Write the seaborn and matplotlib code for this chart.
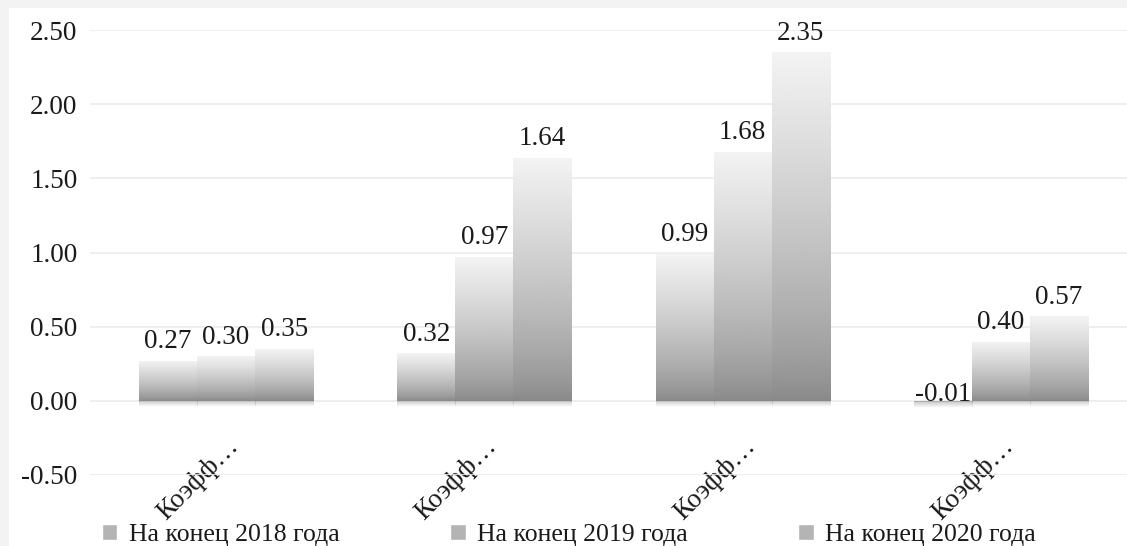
import numpy as np
import pandas as pd
import seaborn as sns
import matplotlib.pyplot as plt
from matplotlib.patches import Rectangle
from matplotlib.transforms import ScaledTranslation

# Данные
groups = ["k1", "k2", "k3", "k4"]
group_labels = ["Коэфф…", "Коэфф…", "Коэфф…", "Коэфф…"]
series = ["На конец 2018 года", "На конец 2019 года", "На конец 2020 года"]
vals_2018 = [0.27, 0.32, 0.99, -0.01]
vals_2019 = [0.30, 0.97, 1.68, 0.40]
vals_2020 = [0.35, 1.64, 2.35, 0.57]

df = pd.DataFrame({
    "group": groups * 3,
    "year": [series[0]] * 4 + [series[1]] * 4 + [series[2]] * 4,
    "value": vals_2018 + vals_2019 + vals_2020,
})

sns.set_style("white")
plt.rcParams["font.family"] = ["Liberation Serif", "DejaVu Serif"]
plt.rcParams["axes.unicode_minus"] = False
txt_color = "#1a1a1a"
fs = 19.5

fig = plt.figure(figsize=(11.27, 5.46), dpi=100, facecolor="#f3f3f3")
fig.patches.append(Rectangle((9 / 1127, 0), 1, 1 - 8 / 546, transform=fig.transFigure,
                             facecolor="white", edgecolor="none", zorder=-5))
ax = fig.add_axes([90 / 1127, 1 - 475 / 546, 1 - 90 / 1127, 445 / 546])
ax.set_facecolor("none")

sns.barplot(data=df, x="group", y="value", hue="year", order=groups, hue_order=series,
            palette=["#b4b4b4"] * 3, saturation=1, width=0.675, ax=ax, legend=True)

handles, labels = ax.get_legend_handles_labels()
ax.get_legend().remove()

# градиентная заливка столбцов
t = np.linspace(0, 1, 256) ** 0.75
dark, light = 0x88 / 255, 0xf3 / 255
grad = (dark + (light - dark) * t).reshape(-1, 1)

# тень под столбцами
shadow = np.zeros((16, 1, 4))
shadow[..., :3] = 0.45
shadow[:, 0, 3] = np.linspace(0.0, 0.35, 16)

all_vals = [vals_2018, vals_2019, vals_2020]
for container, vals in zip(ax.containers, all_vals):
    for bar, v in zip(container, vals):
        x, y = bar.get_x(), bar.get_y()
        w, h = bar.get_width(), bar.get_height()
        bar.set_facecolor("none")
        bar.set_edgecolor("none")
        y0, y1 = min(y, y + h), max(y, y + h)
        im = ax.imshow(grad, cmap="gray", vmin=0, vmax=1, origin="lower", aspect="auto",
                       extent=[x, x + w, y0, y1], zorder=2)
        im.set_clip_path(bar)
        ax.imshow(shadow, origin="lower", aspect="auto",
                  extent=[x, x + w, y0 - 0.04, y0], zorder=1.5)
        if v >= 0:
            ax.annotate(f"{v:.2f}", (x + w / 2, v), xytext=(0, 9), textcoords="offset points",
                        ha="center", va="baseline", fontsize=fs, color=txt_color, zorder=3)
        else:
            ax.annotate(f"{v:.2f}", (x + w / 2, 0), xytext=(0, 0), textcoords="offset points",
                        ha="center", va="baseline", fontsize=fs, color=txt_color, zorder=3)

ax.set_xlim(-0.527, 3.488)
ax.set_ylim(-0.5, 2.5)
ax.set_yticks(np.arange(-0.5, 2.51, 0.5))
ax.set_yticklabels([f"{v:.2f}" for v in np.arange(-0.5, 2.51, 0.5)], fontsize=fs, color=txt_color)
ax.grid(axis="y", color="#ebebeb", linewidth=1.2, zorder=0)
ax.set_axisbelow(True)
ax.tick_params(axis="y", length=0, pad=9)
ax.tick_params(axis="x", length=0, pad=-30)
ax.set_xticks(range(4))
ax.set_xticklabels(group_labels, rotation=45, ha="right", rotation_mode="anchor",
                   fontsize=fs, color=txt_color)
for lab in ax.get_xticklabels():
    lab.set_transform(lab.get_transform() + ScaledTranslation(0.0, 0, fig.dpi_scale_trans))
ax.set_xlabel("")
ax.set_ylabel("")
sns.despine(ax=ax, left=True, bottom=True)

fig.legend(handles, labels, loc="center", bbox_to_anchor=(0.505, 0.02), ncol=3, frameon=False,
           fontsize=18.5, handlelength=0.6, handleheight=0.6, handletextpad=0.45,
           columnspacing=4.3, labelcolor=txt_color, borderpad=0)

plt.savefig("out.png", dpi=100, facecolor=fig.get_facecolor())
